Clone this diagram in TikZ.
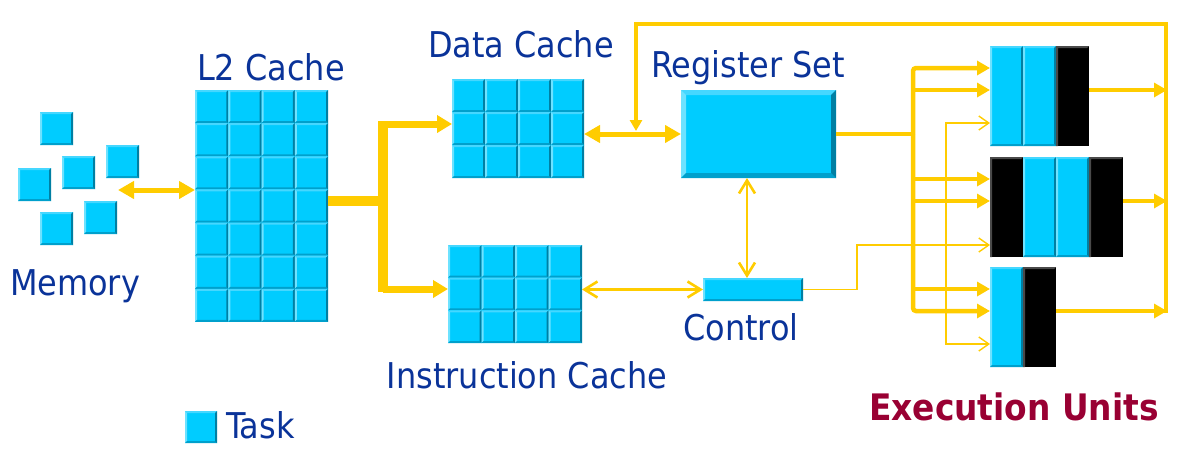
\documentclass[tikz,border=0pt]{standalone}
\usepackage{fontspec}
\setmainfont{DejaVu Sans Condensed}[BoldFont={DejaVu Sans Condensed Bold}]
\usetikzlibrary{arrows.meta,calc}

\definecolor{cy}{HTML}{00CCFF}
\definecolor{bvT}{HTML}{45D7FF}
\definecolor{bvL}{HTML}{6EE2FF}
\definecolor{bvB}{HTML}{00A0CC}
\definecolor{bvR}{HTML}{007FA3}
\definecolor{gold}{HTML}{FFCC00}
\definecolor{txtblue}{HTML}{0A3399}
\definecolor{txtred}{HTML}{990033}
\definecolor{kedge}{HTML}{4A4A4A}

% bevelled cyan box: x, y, width, height, bevel
\newcommand\BevBox[5]{%
  \fill[cy] ({#1},{#2}) rectangle ++({#3},{#4});
  \fill[bvT] ({#1},{#2}) -- ({#1+#3},{#2}) -- ({#1+#3-#5},{#2+#5}) -- ({#1+#5},{#2+#5}) -- cycle;
  \fill[bvL] ({#1},{#2}) -- ({#1+#5},{#2+#5}) -- ({#1+#5},{#2+#4-#5}) -- ({#1},{#2+#4}) -- cycle;
  \fill[bvB] ({#1},{#2+#4}) -- ({#1+#5},{#2+#4-#5}) -- ({#1+#3-#5},{#2+#4-#5}) -- ({#1+#3},{#2+#4}) -- cycle;
  \fill[bvR] ({#1+#3},{#2}) -- ({#1+#3},{#2+#4}) -- ({#1+#3-#5},{#2+#4-#5}) -- ({#1+#3-#5},{#2+#5}) -- cycle;
}
% black column with a grey top-left edge: x, y, width, height
\newcommand\BlkCol[4]{%
  \fill[black] ({#1},{#2}) rectangle ++({#3},{#4});
  \fill[kedge] ({#1},{#2}) -- ({#1+#3},{#2}) -- ({#1+#3-2},{#2+2}) -- ({#1+2},{#2+2}) -- ({#1+2},{#2+#4}) -- ({#1},{#2+#4}) -- cycle;
}
% grid of bevelled cells: x, y, columns, rows, cell width, cell height
\newcommand\CellGrid[6]{%
  \foreach \ci in {1,...,#3}{\foreach \cj in {1,...,#4}{%
    \pgfmathsetmacro\cx{#1+(\ci-1)*#5}%
    \pgfmathsetmacro\cyy{#2+(\cj-1)*#6}%
    \BevBox{\cx}{\cyy}{#5}{#6}{2}}}%
}

\begin{document}
\begin{tikzpicture}[x=1pt,y=-1pt,
  block/.style={inner sep=0pt,outer sep=0pt,anchor=north west},
  lbl/.style={text=txtblue,font=\fontsize{35.5}{40}\selectfont,inner sep=0pt,anchor=base},
  dblarrow/.style={draw=gold,line width=5pt,
    {Triangle[length=16pt,width=17pt]}-{Triangle[length=16pt,width=17pt]}},
  fatbar/.style={draw=gold,line width=10pt},
  busarrow/.style={draw=gold,line width=7pt,-{Triangle[length=15pt,width=17pt]}},
  fatarrow/.style={draw=gold,line width=4.5pt,-{Triangle[length=13pt,width=14pt]}},
  busline/.style={draw=gold,line width=4.5pt},
  loopline/.style={draw=gold,line width=3.5pt,-{Triangle[length=11pt,width=12pt]}},
  ctlarrow/.style={draw=gold,line width=2.6pt,
    {Straight Barb[length=13pt,width=16pt]}-{Straight Barb[length=13pt,width=16pt]}},
  thinarrow/.style={draw=gold,line width=1.4pt,-{Straight Barb[length=10pt,width=14pt]}}]

\useasboundingbox (0,0) rectangle (1183,450);

% ---- memory
\foreach \n/\x/\y in {m1/40/112,m2/106/145,m3/62/156,m4/18/168,m5/84/201,m6/40/212}{
  \node[block,minimum width=33pt,minimum height=33pt] (\n) at (\x,\y) {};
  \BevBox{\x}{\y}{33}{33}{2}
}
\node[lbl] (memlbl) at (75,295) {Memory};

% ---- caches
\node[block,minimum width=133pt,minimum height=232pt] (l2) at (195,90) {};
\CellGrid{195}{90}{4}{7}{33.25}{33.14}
\node[lbl] (l2lbl) at (271,80) {L2 Cache};

\node[block,minimum width=132pt,minimum height=99pt] (dcache) at (452,79) {};
\CellGrid{452}{79}{4}{3}{33}{33}
\node[lbl] (dclbl) at (521,57) {Data Cache};

\node[block,minimum width=134pt,minimum height=98pt] (icache) at (448,245) {};
\CellGrid{448}{245}{4}{3}{33.5}{32.67}
\node[lbl] (iclbl) at (527,388) {Instruction Cache};

% ---- register set and control
\node[block,minimum width=155pt,minimum height=88pt] (reg) at (681,90) {};
\BevBox{681}{90}{155}{88}{5}
\node[lbl] (reglbl) at (748,77) {Register Set};

\node[block,minimum width=100pt,minimum height=23pt] (ctrl) at (703,278) {};
\BevBox{703}{278}{100}{23}{2}
\node[lbl] (ctrllbl) at (741,340) {Control};

% ---- execution units
\node[block,minimum width=99pt,minimum height=100pt] (u1) at (990,46) {};
\BevBox{990}{46}{33}{100}{2}
\BevBox{1023}{46}{33}{100}{2}
\BlkCol{1056}{46}{33}{100}

\node[block,minimum width=133pt,minimum height=100pt] (u2) at (990,157) {};
\BlkCol{990}{157}{33}{100}
\BevBox{1023}{157}{33}{100}{2}
\BevBox{1056}{157}{33}{100}{2}
\BlkCol{1089}{157}{34}{100}

\node[block,minimum width=66pt,minimum height=100pt] (u3) at (990,267) {};
\BevBox{990}{267}{33}{100}{2}
\BlkCol{1023}{267}{33}{100}

\node[lbl,text=txtred,font=\fontsize{36.5}{40}\selectfont\bfseries] (eulbl) at (1014,420) {Execution Units};

% ---- legend
\node[block,minimum width=32pt,minimum height=32pt] (tasksq) at (185,411) {};
\BevBox{185}{411}{32}{32}{2}
\node[lbl,anchor=base west] (tasklbl) at (226,438) {Task};

% ---- connectors
\coordinate (memport) at (118,190);
\draw[dblarrow] (memport) -- (memport -| l2.west);

\coordinate (bustop) at (383,121);
\coordinate (busbot) at (383,292);
\draw[fatbar] (l2.east |- 0,201) -- (383,201);
\draw[fatbar] (bustop) -- (busbot);
\draw[busarrow] (383,124) -- (dcache.west |- 0,124);
\draw[busarrow] (383,289) -- (icache.west |- 0,289);

\draw[dblarrow] (dcache.east |- reg.west) -- (reg.west);

\coordinate (rtop) at (1166,24);
\coordinate (rbot) at (1166,313);
\coordinate (ltop) at (636,24);
\coordinate (tap) at (636,131);
\draw[loopline] (rbot) -- (rtop) -- (ltop) -- (tap);

\draw[busline] (reg.east) -- (915,134);
\draw[fatarrow,rounded corners=3pt] (913,134) |- (u1.west |- 0,68);
\draw[fatarrow,rounded corners=3pt] (913,134) |- (u3.west |- 0,311);
\draw[fatarrow] (913,90) -- (u1.west |- 0,90);
\draw[fatarrow] (913,179) -- (u2.west |- 0,179);
\draw[fatarrow] (913,201) -- (u2.west |- 0,201);
\draw[fatarrow] (913,289) -- (u3.west |- 0,289);

\draw[thinarrow] (ctrl.east) -| (857,245) -- (u2.west |- 0,245);
\draw[thinarrow] (946,245) |- (u1.west |- 0,123);
\draw[thinarrow] (946,245) |- (u3.west |- 0,344);

\draw[ctlarrow] (reg.south -| 747,0) -- (ctrl.north -| 747,0);
\draw[ctlarrow] (icache.east |- ctrl.west) -- (ctrl.west);

\draw[fatarrow] (u1.east |- 0,90) -- (1167,90);
\draw[fatarrow] (u2.east |- 0,201) -- (1167,201);
\draw[fatarrow] (u3.east |- 0,311) -- (1167,311);
\end{tikzpicture}
\end{document}
